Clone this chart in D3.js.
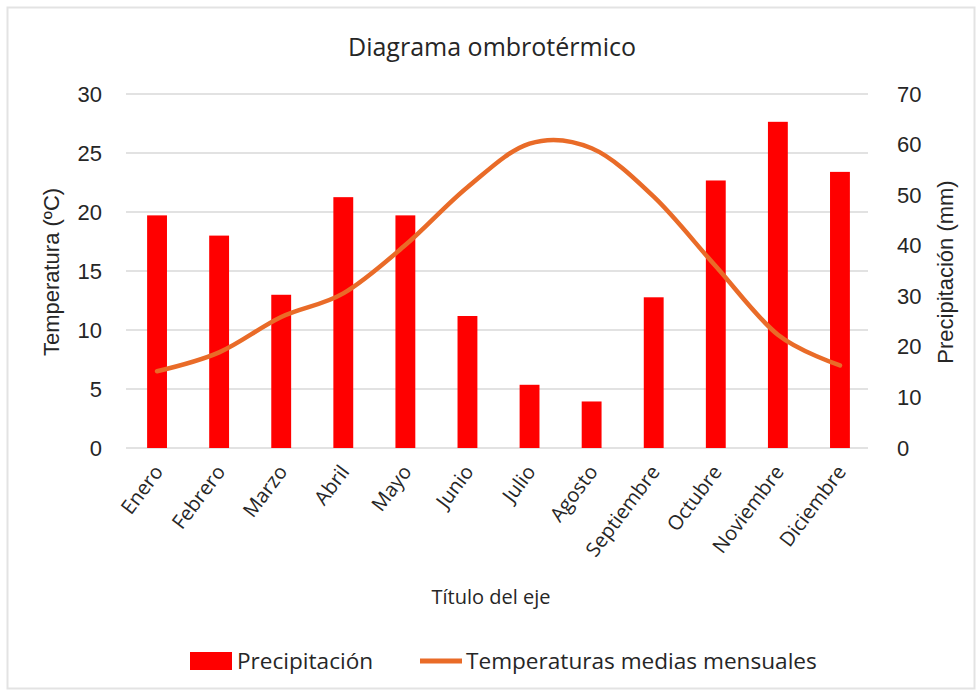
<!DOCTYPE html>
<html>
<head>
<meta charset="utf-8">
<script src="https://cdn.jsdelivr.net/npm/d3@7"></script>
<style>
  html, body { margin: 0; padding: 0; background: #ffffff; }
  svg { display: block; }
</style>
</head>
<body>
<svg id="chart" width="979" height="693"></svg>
<script>
const months = ["Enero","Febrero","Marzo","Abril","Mayo","Junio","Julio","Agosto","Septiembre","Octubre","Noviembre","Diciembre"];
const precipitation = [46, 42, 30.3, 49.6, 46, 26.1, 12.5, 9.2, 29.8, 52.9, 64.5, 54.6];
const temperature = [6.5, 8.1, 11.1, 13.1, 17.2, 22.1, 25.8, 25.4, 21.3, 15.4, 9.6, 7.0];
const tempTicks = [0, 5, 10, 15, 20, 25, 30];
const precTicks = [0, 10, 20, 30, 40, 50, 60, 70];

const svg = d3.select("#chart");
const W = 979, H = 693;
const plot = { left: 126, right: 871, top: 94, bottom: 448 };

const labelFont = "'Open Sans', Roboto, sans-serif";
const numFont = "'Liberation Sans', Arial, sans-serif";
const textColor = "#262626";

// frame
svg.append("rect").attr("x", 7.5).attr("y", 7.5).attr("width", W - 12).attr("height", H - 12)
  .attr("fill", "#fff").attr("stroke", "#e3e3e3").attr("stroke-width", 2);

const x = d3.scaleBand().domain(months).range([plot.left, plot.right]).paddingInner(0.68).paddingOuter(0.34);
const yT = d3.scaleLinear().domain([0, 30]).range([plot.bottom, plot.top]);
const yP = d3.scaleLinear().domain([0, 70]).range([plot.bottom, plot.top]);

// gridlines
svg.append("g").selectAll("line").data(tempTicks).join("line")
  .attr("x1", plot.left).attr("x2", plot.right - 3)
  .attr("y1", d => yT(d)).attr("y2", d => yT(d))
  .attr("stroke", "#d9d9d9").attr("stroke-width", 1.5);

// left axis
const leftAxis = d3.axisLeft(yT).tickValues(tempTicks).tickSize(0).tickPadding(24);
const gL = svg.append("g").attr("transform", `translate(${plot.left},0)`).call(leftAxis);
gL.select(".domain").remove();
gL.selectAll("text").attr("font-family", numFont).attr("font-size", 22).attr("fill", textColor);

// right axis
const rightAxis = d3.axisRight(yP).tickValues(precTicks).tickSize(0).tickPadding(26);
const gR = svg.append("g").attr("transform", `translate(${plot.right},0)`).call(rightAxis);
gR.select(".domain").remove();
gR.selectAll("text").attr("font-family", numFont).attr("font-size", 22).attr("fill", textColor);

// bars
svg.append("g").selectAll("rect").data(months).join("rect")
  .attr("x", d => x(d))
  .attr("width", x.bandwidth())
  .attr("y", (d, i) => yP(precipitation[i]))
  .attr("height", (d, i) => yP(0) - yP(precipitation[i]))
  .attr("fill", "#ff0000");

// temperature line
const line = d3.line()
  .x((d, i) => x(months[i]) + x.bandwidth() / 2)
  .y(d => yT(d))
  .curve(d3.curveCatmullRom.alpha(0));
svg.append("path").datum(temperature).attr("d", line)
  .attr("fill", "none").attr("stroke", "#e96b28").attr("stroke-width", 4.5)
  .attr("stroke-linecap", "round").attr("stroke-linejoin", "round");

// x labels
const bottomAxis = d3.axisBottom(x).tickSize(0).tickPadding(0);
const gB = svg.append("g").attr("transform", `translate(0,${plot.bottom})`).call(bottomAxis);
gB.select(".domain").remove();
gB.selectAll("text")
  .attr("font-family", labelFont).attr("font-size", 20).attr("fill", textColor)
  .attr("text-anchor", "end")
  .attr("dy", null).attr("y", null)
  .attr("transform", "translate(7,24) rotate(-53)");

// title
svg.append("text").attr("x", 492).attr("y", 56).attr("text-anchor", "middle")
  .attr("font-family", labelFont).attr("font-size", 25).attr("fill", textColor)
  .text("Diagrama ombrotérmico");

// axis titles
svg.append("text").attr("transform", "translate(59,272) rotate(-90)").attr("text-anchor", "middle")
  .attr("font-family", numFont).attr("font-size", 22).attr("fill", textColor)
  .text("Temperatura (ºC)");
svg.append("text").attr("transform", "translate(953,272) rotate(-90)").attr("text-anchor", "middle")
  .attr("font-family", numFont).attr("font-size", 22).attr("fill", textColor)
  .text("Precipitación (mm)");
svg.append("text").attr("x", 491).attr("y", 604).attr("text-anchor", "middle")
  .attr("font-family", labelFont).attr("font-size", 20).attr("fill", textColor)
  .text("Título del eje");

// legend
const lg = svg.append("g");
lg.append("rect").attr("x", 190).attr("y", 652).attr("width", 42).attr("height", 18).attr("fill", "#ff0000");
lg.append("text").attr("x", 237).attr("y", 669).attr("font-family", labelFont).attr("font-size", 22.6)
  .attr("fill", textColor).text("Precipitación");
lg.append("line").attr("x1", 420).attr("x2", 462).attr("y1", 661).attr("y2", 661)
  .attr("stroke", "#e96b28").attr("stroke-width", 5);
lg.append("text").attr("x", 466).attr("y", 669).attr("font-family", labelFont).attr("font-size", 22.6)
  .attr("fill", textColor).text("Temperaturas medias mensuales");
</script>
</body>
</html>
